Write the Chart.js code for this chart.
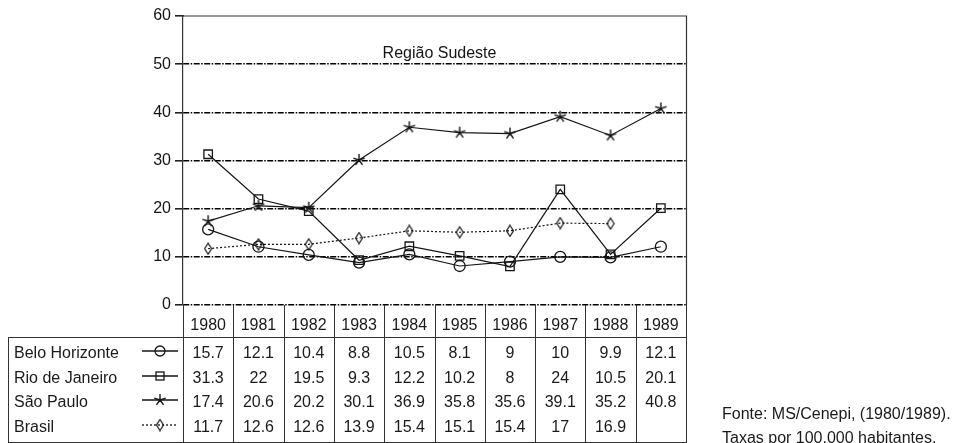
<!DOCTYPE html>
<html>
<head>
<meta charset="utf-8">
<script src="https://cdn.jsdelivr.net/npm/chart.js@4"></script>
<style>
  body { margin: 0; background: #fff; }
  #wrap { position: absolute; left: 0; top: 0; width: 955px; height: 443px; overflow: hidden; }
  #overlay { position: absolute; left: 0; top: 0; width: 955px; height: 443px; pointer-events: none; overflow: hidden;
             font-family: "Liberation Sans", Arial, sans-serif; font-size: 16px; color: #1a1a1a; }
  .cell { position: absolute; text-align: center; line-height: 20px; }
  .vline { position: absolute; width: 0; border-left: 1px solid #333; }
  .hline { position: absolute; height: 0; border-top: 1px solid #333; }
  .note { position: absolute; white-space: nowrap; }
</style>
</head>
<body>
<div id="wrap"><canvas id="chart"></canvas></div>
<div id="overlay"></div>
<script>
const years = ["1980", "1981", "1982", "1983", "1984", "1985", "1986", "1987", "1988", "1989"];
const beloHorizonte = [15.7, 12.1, 10.4, 8.8, 10.5, 8.1, 9, 10, 9.9, 12.1];
const rioDeJaneiro = [31.3, 22, 19.5, 9.3, 12.2, 10.2, 8, 24, 10.5, 20.1];
const saoPaulo = [17.4, 20.6, 20.2, 30.1, 36.9, 35.8, 35.6, 39.1, 35.2, 40.8];
const brasil = [11.7, 12.6, 12.6, 13.9, 15.4, 15.1, 15.4, 17, 16.9, null];
const seriesNames = ["Belo Horizonte", "Rio de Janeiro", "São Paulo", "Brasil"];
const yTicks = [0, 10, 20, 30, 40, 50, 60];

const ink = "#151515";

// little marker images for the star and the narrow diamond
function makeStar() {
    const c = document.createElement('canvas');
    c.width = 14; c.height = 14;
    const g = c.getContext('2d');
    g.strokeStyle = ink; g.lineWidth = 1.4;
    g.beginPath();
    for (let k = 0; k < 5; k++) {
        const a = -Math.PI / 2 + k * 2 * Math.PI / 5;
        g.moveTo(7, 7);
        g.lineTo(7 + 6 * Math.cos(a), 7 + 6 * Math.sin(a));
    }
    g.stroke();
    return c;
}
function makeDiamond() {
    const c = document.createElement('canvas');
    c.width = 10; c.height = 13;
    const g = c.getContext('2d');
    g.strokeStyle = ink; g.lineWidth = 1.2;
    g.beginPath();
    g.moveTo(5, 1); g.lineTo(8.5, 6.5); g.lineTo(5, 12); g.lineTo(1.5, 6.5); g.closePath();
    g.stroke();
    return c;
}
const starImg = makeStar();
const diamondImg = makeDiamond();

const seriesData = [beloHorizonte, rioDeJaneiro, saoPaulo, brasil];
const styles = [
    { pointStyle: 'circle', pointRadius: 5.5, dash: [] },
    { pointStyle: 'rect', pointRadius: 6, dash: [] },
    { pointStyle: starImg, pointRadius: 6, dash: [] },
    { pointStyle: diamondImg, pointRadius: 6, dash: [2, 2] }
];

const datasets = seriesNames.map((name, i) => ({
    label: name,
    data: seriesData[i],
    borderColor: ink,
    borderWidth: 1.2,
    borderDash: styles[i].dash,
    backgroundColor: 'rgba(0,0,0,0)',
    pointStyle: styles[i].pointStyle,
    pointRadius: styles[i].pointRadius,
    pointBorderColor: ink,
    pointBorderWidth: 1.3,
    pointBackgroundColor: 'rgba(0,0,0,0)',
    tension: 0,
    spanGaps: false
}));

// frame + region label
const framePlugin = {
    id: 'frame',
    afterDraw(chart) {
        const { ctx, chartArea } = chart;
        const x = chart.scales.x, y = chart.scales.y;
        ctx.save();
        ctx.fillStyle = "#fff";
        ctx.fillRect(chartArea.left + 1, chartArea.top - 1, chartArea.right - chartArea.left + 1, 2.5);
        ctx.strokeStyle = "#333";
        ctx.lineWidth = 1.2;
        ctx.beginPath();
        ctx.moveTo(chartArea.left, chartArea.top);
        ctx.lineTo(chartArea.right + 0.5, chartArea.top);
        ctx.lineTo(chartArea.right + 0.5, chartArea.bottom);
        ctx.stroke();
        ctx.fillStyle = ink;
        ctx.font = '16px "Liberation Sans", Arial, sans-serif';
        ctx.textAlign = 'center';
        ctx.textBaseline = 'middle';
        ctx.fillText("Região Sudeste", x.getPixelForValue(4.6), y.getPixelForValue(52.2));
        ctx.restore();
    }
};

const chart = new Chart(document.getElementById('chart'), {
    type: 'line',
    data: { labels: years, datasets: datasets },
    options: {
        responsive: true,
        maintainAspectRatio: false,
        animation: false,
        layout: { padding: { left: 0, top: 16, right: 269, bottom: 138 } },
        plugins: { legend: { display: false }, tooltip: { enabled: false } },
        scales: {
            x: { display: false, offset: true },
            y: {
                min: 0, max: 60,
                afterFit(scale) { scale.width = 183; },
                afterBuildTicks(scale) { scale.ticks = yTicks.map(v => ({ value: v })); },
                ticks: { color: ink, padding: 4, font: { family: '"Liberation Sans", Arial, sans-serif', size: 16 } },
                grid: { color: "#000", lineWidth: 1.6, tickLength: 8, tickBorderDash: [], tickColor: "#222", tickWidth: 1.6 },
                border: { display: true, color: "#333", width: 1.2, dash: [6, 1.5, 1.5, 1.5] }
            }
        }
    },
    plugins: [framePlugin]
});

// table under the plot, aligned to the category scale
function buildTable() {
    const ov = document.getElementById('overlay');
    const area = chart.chartArea;
    const xs = chart.scales.x;
    const half = (xs.getPixelForValue(1) - xs.getPixelForValue(0)) / 2;
    const headTop = area.bottom;
    const bodyTop = headTop + 32;
    const bodyBottom = 442;
    const tableLeft = 8;
    const rowStep = 24.7;

    function add(cls, css, text) {
        const d = document.createElement('div');
        d.className = cls;
        Object.assign(d.style, css);
        if (text !== undefined) d.textContent = text;
        ov.appendChild(d);
        return d;
    }

    // vertical lines at column edges
    for (let i = 0; i <= years.length; i++) {
        const x = Math.round(xs.getPixelForValue(i) - half);
        add('vline', { left: x + 'px', top: headTop + 'px', height: (bodyBottom - headTop) + 'px' });
    }
    add('vline', { left: tableLeft + 'px', top: bodyTop + 'px', height: (bodyBottom - bodyTop) + 'px' });
    add('hline', { left: tableLeft + 'px', top: bodyTop + 'px', width: (area.right - tableLeft) + 'px' });
    add('hline', { left: tableLeft + 'px', top: bodyBottom + 'px', width: (area.right - tableLeft + 1) + 'px' });

    // header years
    years.forEach((yr, i) => {
        const cx = xs.getPixelForValue(i);
        add('cell', { left: (cx - half) + 'px', width: (2 * half) + 'px', top: (headTop + 10) + 'px' }, yr);
    });

    // rows
    seriesNames.forEach((name, r) => {
        const cy = bodyTop + 16 + rowStep * r;
        add('note', { left: '14px', top: (cy - 10) + 'px', lineHeight: '20px' }, name);

        const lc = document.createElement('canvas');
        lc.width = 40; lc.height = 16;
        Object.assign(lc.style, { position: 'absolute', left: '140px', top: (cy - 10) + 'px' });
        const g = lc.getContext('2d');
        g.strokeStyle = ink; g.lineWidth = 1.3;
        g.setLineDash(styles[r].dash);
        g.beginPath(); g.moveTo(2, 8); g.lineTo(38, 8); g.stroke();
        g.setLineDash([]);
        if (r === 0) { g.beginPath(); g.arc(20, 8, 5, 0, 2 * Math.PI); g.stroke(); }
        else if (r === 1) { g.strokeRect(16, 4, 8, 8); }
        else if (r === 2) { g.drawImage(starImg, 13, 1); }
        else { g.drawImage(diamondImg, 15, 1.5); }
        ov.appendChild(lc);

        seriesData[r].forEach((v, i) => {
            if (v === null) return;
            const cx = xs.getPixelForValue(i);
            add('cell', { left: (cx - half) + 'px', width: (2 * half) + 'px', top: (cy - 10) + 'px' }, String(v));
        });
    });

    add('note', { left: '722px', top: '404px', lineHeight: '20px' }, "Fonte: MS/Cenepi, (1980/1989).");
    add('note', { left: '722px', top: '428px', lineHeight: '20px' }, "Taxas por 100.000 habitantes.");
}
buildTable();
</script>
</body>
</html>
